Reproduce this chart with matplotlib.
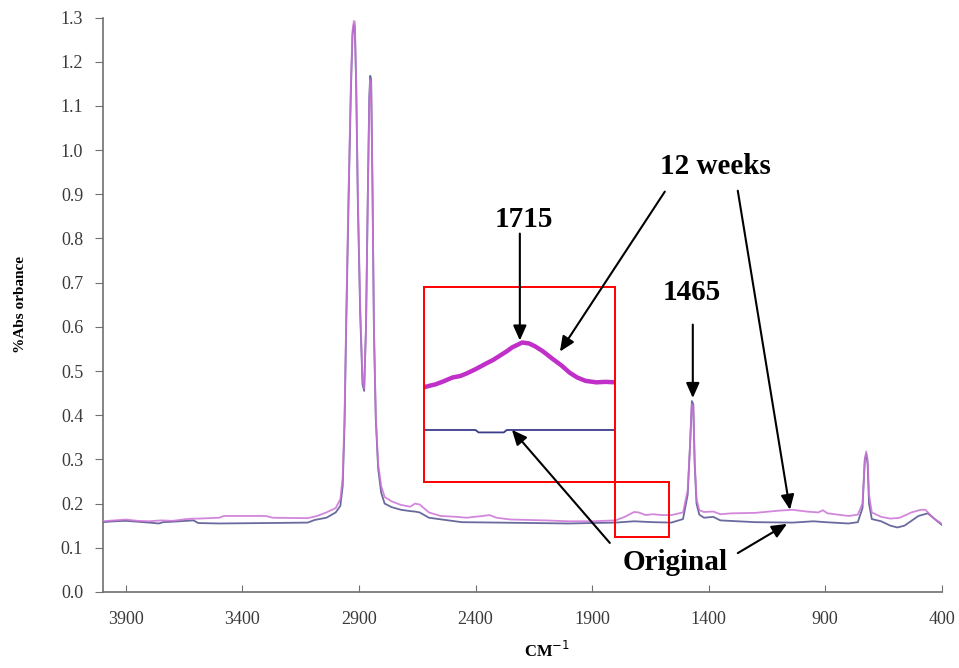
import matplotlib
matplotlib.use("Agg")
import matplotlib.pyplot as plt
from matplotlib.patches import Rectangle

# FTIR spectra of the film: original and after 12 weeks
wn_12wk = [4000, 3950, 3900, 3850, 3800, 3750, 3700, 3640, 3610, 3590, 3500, 3480,
           3300, 3270, 3120, 3080, 3040, 3000, 2980, 2970, 2962, 2955, 2945, 2935,
           2928, 2922, 2918, 2912, 2905, 2895, 2885, 2878, 2870, 2862, 2856, 2852,
           2848, 2842, 2836, 2828, 2818, 2805, 2790, 2760, 2720, 2680, 2660, 2640,
           2600, 2550, 2480, 2440, 2370, 2340, 2310, 2250, 2100, 2000, 1900, 1800,
           1760, 1720, 1700, 1670, 1640, 1600, 1560, 1510, 1490, 1480, 1472, 1466,
           1460, 1452, 1440, 1420, 1380, 1350, 1300, 1200, 1100, 1040, 980, 930,
           910, 890, 800, 760, 740, 730, 724, 718, 712, 700, 660, 620, 580, 530,
           490, 470, 450, 430, 410, 400]
abs_12wk = [0.160, 0.162, 0.164, 0.161, 0.160, 0.162, 0.161, 0.165, 0.166, 0.166, 0.168, 0.172,
            0.172, 0.168, 0.167, 0.172, 0.180, 0.190, 0.210, 0.260, 0.400, 0.620, 0.900, 1.150,
            1.270, 1.292, 1.290, 1.150, 0.900, 0.650, 0.480, 0.460, 0.600, 0.900, 1.100, 1.160,
            1.150, 0.900, 0.600, 0.400, 0.290, 0.240, 0.215, 0.205, 0.197, 0.193, 0.200, 0.198,
            0.180, 0.172, 0.170, 0.168, 0.172, 0.174, 0.168, 0.164, 0.162, 0.160, 0.160, 0.162,
            0.170, 0.181, 0.180, 0.174, 0.176, 0.174, 0.174, 0.180, 0.230, 0.330, 0.425, 0.420,
            0.300, 0.210, 0.185, 0.181, 0.182, 0.176, 0.178, 0.179, 0.184, 0.186, 0.182, 0.180,
            0.185, 0.178, 0.172, 0.175, 0.200, 0.300, 0.318, 0.300, 0.220, 0.180, 0.170, 0.166,
            0.168, 0.180, 0.186, 0.186, 0.175, 0.165, 0.158, 0.154]

wn_orig = [4000, 3950, 3900, 3850, 3800, 3760, 3740, 3700, 3640, 3610, 3590, 3500,
           3300, 3120, 3090, 3040, 3000, 2980, 2970, 2962, 2955, 2945, 2935, 2928,
           2922, 2918, 2912, 2905, 2895, 2885, 2878, 2870, 2862, 2856, 2852, 2848,
           2842, 2836, 2828, 2818, 2805, 2790, 2760, 2720, 2680, 2660, 2640, 2600,
           2460, 2300, 2000, 1800, 1720, 1640, 1560, 1510, 1490, 1480, 1472, 1466,
           1460, 1452, 1440, 1420, 1380, 1350, 1200, 1040, 950, 900, 800, 760, 740,
           730, 724, 718, 712, 700, 660, 620, 590, 560, 500, 460, 430, 400]
abs_orig = [0.158, 0.160, 0.161, 0.159, 0.157, 0.155, 0.158, 0.159, 0.161, 0.162, 0.156, 0.155,
            0.156, 0.157, 0.163, 0.168, 0.180, 0.195, 0.240, 0.380, 0.600, 0.880, 1.130, 1.260,
            1.285, 1.280, 1.140, 0.880, 0.630, 0.470, 0.455, 0.600, 0.910, 1.120, 1.168, 1.160,
            0.910, 0.590, 0.390, 0.280, 0.225, 0.200, 0.192, 0.186, 0.183, 0.182, 0.180, 0.168,
            0.158, 0.157, 0.155, 0.157, 0.160, 0.158, 0.157, 0.165, 0.220, 0.330, 0.432, 0.425,
            0.290, 0.200, 0.175, 0.168, 0.170, 0.162, 0.158, 0.157, 0.160, 0.158, 0.155, 0.158, 0.190,
            0.300, 0.312, 0.290, 0.200, 0.165, 0.160, 0.150, 0.146, 0.150, 0.172, 0.178, 0.165, 0.152]

# Enlarged view of the carbonyl region (1715 cm-1)
inset_wn_12wk = [1845, 1838, 1830, 1820, 1808, 1798, 1790, 1778, 1765, 1755, 1745, 1737,
                 1730, 1722, 1717, 1708, 1700, 1690, 1677, 1665, 1655, 1645, 1634, 1620,
                 1608, 1595]
inset_abs_12wk = [0.1694, 0.1697, 0.1700, 0.1706, 0.1714, 0.1717, 0.1722, 0.1731, 0.1742, 0.1750,
                  0.1760, 0.1768, 0.1776, 0.1782, 0.1786, 0.1784, 0.1778, 0.1768, 0.1752, 0.1738,
                  0.1724, 0.1714, 0.1707, 0.1704, 0.1705, 0.1704]
inset_wn_orig = [1845, 1778, 1774, 1741, 1737, 1595]
inset_abs_orig = [0.1606, 0.1606, 0.1601, 0.1601, 0.1606, 0.1606]

x_ticks = [3900, 3400, 2900, 2400, 1900, 1400, 900, 400]
y_ticks = [0.0, 0.1, 0.2, 0.3, 0.4, 0.5, 0.6, 0.7, 0.8, 0.9, 1.0, 1.1, 1.2, 1.3]

c_12wk = "#cc72d6"
c_orig = "#50508e"
serif = "Liberation Serif"

fig = plt.figure(figsize=(9.59, 6.68), dpi=100)
ax = fig.add_axes([0.107, 0.1138, 0.875, 0.86])

ax.plot(wn_orig, abs_orig, color=c_orig, lw=1.3, alpha=0.85, zorder=3)
ax.plot(wn_12wk, abs_12wk, color=c_12wk, lw=1.3, alpha=0.85, zorder=4)

ax.set_xlim(4000, 400)
ax.set_ylim(0, 1.3)
ax.set_xticks(x_ticks)
ax.set_yticks(y_ticks)
ax.set_yticklabels([f"{v:.1f}" for v in y_ticks])
for s in ("top", "right"):
    ax.spines[s].set_visible(False)
for s in ("left", "bottom"):
    ax.spines[s].set_color("#707070")
    ax.spines[s].set_linewidth(1.2)
ax.tick_params(axis="x", direction="in", length=5, color="#707070", pad=14,
               labelsize=13, labelcolor="#3a3a3a")
ax.tick_params(axis="y", direction="out", length=6, color="#707070", pad=8,
               labelsize=13, labelcolor="#3a3a3a")
for lab in ax.get_xticklabels() + ax.get_yticklabels():
    lab.set_fontfamily(serif)

ax.set_ylabel("%Abs orbance", fontfamily=serif, fontweight="bold", fontsize=11)
ax.yaxis.set_label_coords(-0.09, 0.5)
ax.set_xlabel("CM$^{-1}$", fontfamily=serif, fontweight="bold", fontsize=12)
ax.xaxis.set_label_coords(0.53, -0.085)

# Region marker and zoomed inset
ax.add_patch(Rectangle((1800, 0.125), -230, 0.125, fill=False, edgecolor="red",
                       lw=1.4, zorder=5))
x0 = (4000 - 2620) / 3600
x1 = (4000 - 1800) / 3600
ins = ax.inset_axes([x0, 0.25 / 1.3, x1 - x0, 0.44 / 1.3], zorder=6)
ins.plot(inset_wn_12wk, inset_abs_12wk, color="#c030c8", lw=3.2)
ins.plot(inset_wn_orig, inset_abs_orig, color="#3c3c8c", lw=1.3)
ins.set_xlim(1845, 1595)
ins.set_ylim(0.150, 0.190)
ins.set_xticks([])
ins.set_yticks([])
ins.patch.set_alpha(0.0)
for s in ins.spines.values():
    s.set_color("red")
    s.set_linewidth(1.4)

# Annotations
tfont = dict(fontfamily=serif, fontweight="bold", fontsize=21, ha="center",
             va="center", zorder=8)
arrow = dict(arrowstyle="-|>,head_length=0.9,head_width=0.4", color="black", lw=1.5,
             shrinkA=0, shrinkB=0)

ax.text(1373, 0.963, "12 weeks", **tfont)
ax.annotate("", xy=(2038, 0.544), xytext=(1588, 0.906), arrowprops=arrow, zorder=8)
ax.annotate("", xy=(1051, 0.186), xytext=(1275, 0.908), arrowprops=arrow, zorder=8)

ax.text(2193, 0.843, "1715", **tfont)
ax.annotate("", xy=(2210, 0.569), xytext=(2210, 0.811), arrowprops=arrow, zorder=8)

ax.text(1472, 0.677, "1465", **tfont)
ax.annotate("", xy=(1468, 0.439), xytext=(1468, 0.605), arrowprops=arrow, zorder=8)

ax.text(1545, 0.066, "Original", **tfont)
ax.annotate("", xy=(2244, 0.367), xytext=(1824, 0.111), arrowprops=arrow, zorder=8)
ax.annotate("", xy=(1064, 0.154), xytext=(1275, 0.088), arrowprops=arrow, zorder=8)

fig.savefig("out.png", dpi=100)
